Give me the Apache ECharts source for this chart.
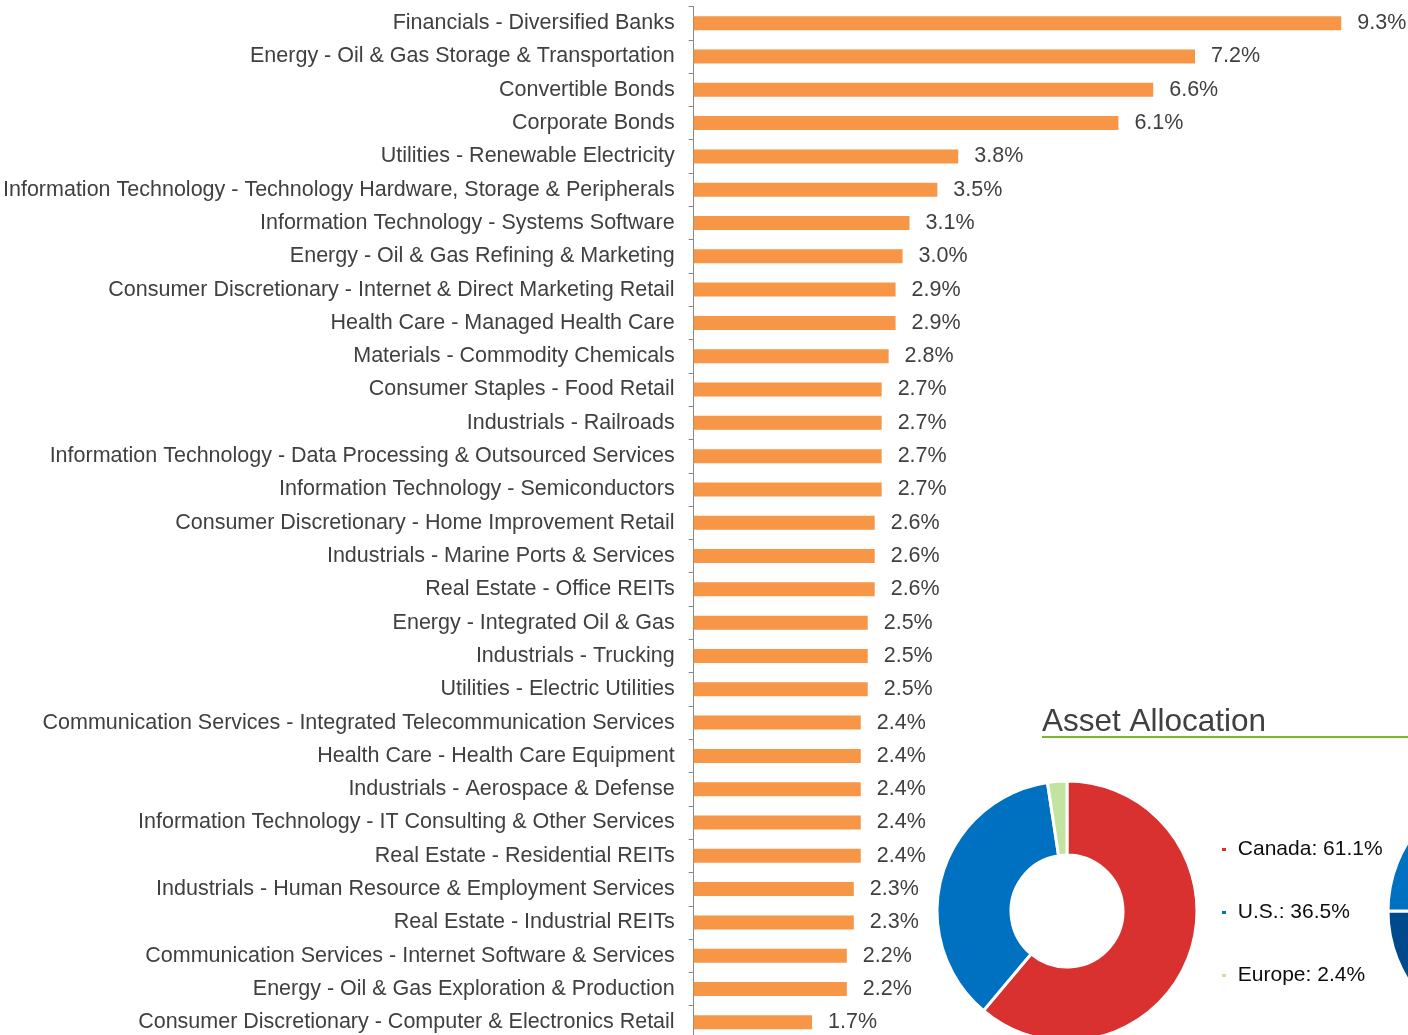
<!DOCTYPE html>
<html>
<head>
<meta charset="utf-8">
<title>Sector Allocation</title>
<script src="https://cdn.jsdelivr.net/npm/echarts@6/dist/echarts.min.js"></script>
<style>
  html, body { margin: 0; padding: 0; background: #fff; overflow: hidden; }
  /* a bit taller than the window: the last row of the chart is cut off at the bottom */
  #chart { width: 1408px; height: 1045px; }
</style>
</head>
<body>
<div id="chart"></div>
<script>
// sector weights, top to bottom
const sectors = [
  "Financials - Diversified Banks",
  "Energy - Oil & Gas Storage & Transportation",
  "Convertible Bonds",
  "Corporate Bonds",
  "Utilities - Renewable Electricity",
  "Information Technology - Technology Hardware, Storage & Peripherals",
  "Information Technology - Systems Software",
  "Energy - Oil & Gas Refining & Marketing",
  "Consumer Discretionary - Internet & Direct Marketing Retail",
  "Health Care - Managed Health Care",
  "Materials - Commodity Chemicals",
  "Consumer Staples - Food Retail",
  "Industrials - Railroads",
  "Information Technology - Data Processing & Outsourced Services",
  "Information Technology - Semiconductors",
  "Consumer Discretionary - Home Improvement Retail",
  "Industrials - Marine Ports & Services",
  "Real Estate - Office REITs",
  "Energy - Integrated Oil & Gas",
  "Industrials - Trucking",
  "Utilities - Electric Utilities",
  "Communication Services - Integrated Telecommunication Services",
  "Health Care - Health Care Equipment",
  "Industrials - Aerospace & Defense",
  "Information Technology - IT Consulting & Other Services",
  "Real Estate - Residential REITs",
  "Industrials - Human Resource & Employment Services",
  "Real Estate - Industrial REITs",
  "Communication Services - Internet Software & Services",
  "Energy - Oil & Gas Exploration & Production",
  "Consumer Discretionary - Computer & Electronics Retail"
];
const weights = [
  9.3, 7.2, 6.6, 6.1, 3.8, 3.5, 3.1, 3.0, 2.9, 2.9, 2.8,
  2.7, 2.7, 2.7, 2.7, 2.6, 2.6, 2.6, 2.5, 2.5, 2.5,
  2.4, 2.4, 2.4, 2.4, 2.4, 2.3, 2.3, 2.2, 2.2, 1.7
];

// asset allocation donut
const regions = ["Canada", "U.S.", "Europe"];
const regionWeights = [61.1, 36.5, 2.4];
const regionColors = ["#d93030", "#0070c0", "#c3e3a0"];

// second donut, cut off at the right edge (only two slices visible)
const sideNames = ["Part A", "Part B"];
const sideWeights = [75, 25];
const sideColors = ["#004a8c", "#0070c0"];

const FONT = "'Liberation Sans', Arial, sans-serif";

const chart = echarts.init(document.getElementById("chart"));

const option = {
  animation: false,
  textStyle: { fontFamily: FONT },
  grid: {
    left: 693,
    top: 6.5,
    width: 697,
    height: 1032.5
  },
  xAxis: {
    type: "value",
    min: 0,
    max: 10,
    show: false
  },
  yAxis: {
    type: "category",
    data: sectors,
    inverse: true,
    axisLine: { lineStyle: { color: "#888888", width: 1 } },
    axisTick: { show: true, length: 5, lineStyle: { color: "#888888" } },
    axisLabel: {
      color: "#404040",
      fontSize: 21.5,
      fontFamily: FONT,
      margin: 19
    },
    splitLine: { show: false }
  },
  legend: {
    data: regions,
    orient: "vertical",
    left: 1215,
    top: 834,
    itemWidth: 6,
    itemHeight: 5,
    itemGap: 42,
    icon: "rect",
    selectedMode: false,
    textStyle: { color: "#0d0d0d", fontSize: 21, lineHeight: 21, fontFamily: FONT },
    formatter: function (name) {
      const i = regions.indexOf(name);
      return " " + name + ": " + regionWeights[i].toFixed(1) + "%";
    }
  },
  graphic: [
    {
      type: "text",
      left: 1042,
      top: 706,
      style: {
        text: "Asset Allocation",
        fill: "#404040",
        font: "31.5px " + FONT
      }
    },
    {
      type: "rect",
      shape: { x: 1042, y: 736, width: 366, height: 2 },
      style: { fill: "#78b928" }
    }
  ],
  series: [
    {
      type: "bar",
      data: weights,
      barWidth: 14,
      itemStyle: { color: "#f79646" },
      label: {
        show: true,
        position: "right",
        distance: 16,
        color: "#404040",
        fontSize: 21.5,
        fontFamily: FONT,
        formatter: function (p) { return p.value.toFixed(1) + "%"; }
      }
    },
    {
      type: "pie",
      center: [1067, 911],
      radius: [56, 130],
      startAngle: 90,
      clockwise: true,
      label: { show: false },
      labelLine: { show: false },
      emphasis: { disabled: true },
      itemStyle: { borderColor: "#ffffff", borderWidth: 3 },
      data: regions.map((n, i) => ({
        name: n,
        value: regionWeights[i],
        itemStyle: { color: regionColors[i] }
      }))
    },
    {
      type: "pie",
      center: [1518, 911],
      radius: [56, 130],
      startAngle: 90,
      clockwise: true,
      label: { show: false },
      labelLine: { show: false },
      emphasis: { disabled: true },
      itemStyle: { borderColor: "#ffffff", borderWidth: 3 },
      data: sideNames.map((n, i) => ({
        name: n,
        value: sideWeights[i],
        itemStyle: { color: sideColors[i] }
      }))
    }
  ]
};

chart.setOption(option);
</script>
</body>
</html>
